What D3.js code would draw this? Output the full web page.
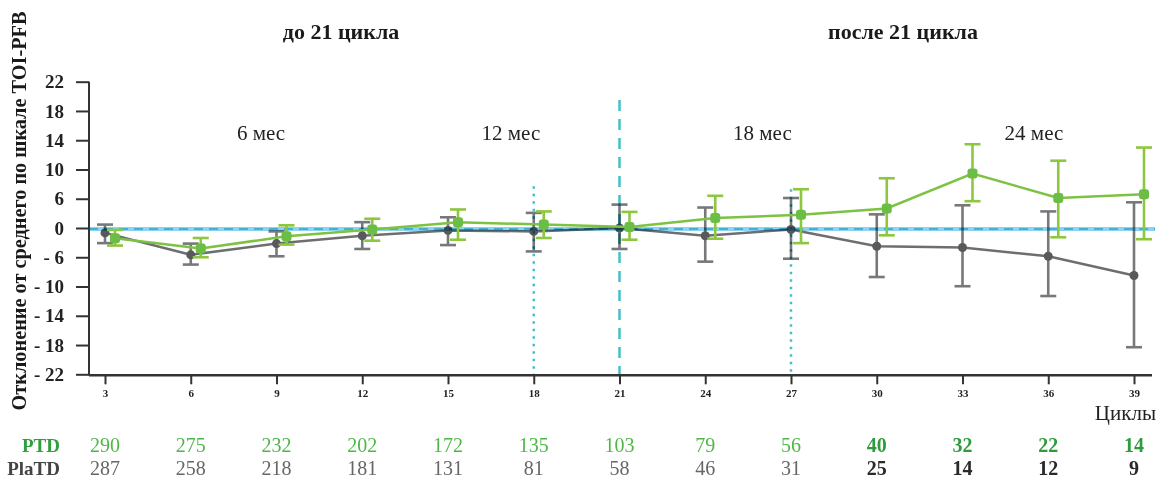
<!DOCTYPE html>
<html><head><meta charset="utf-8">
<script src="https://cdn.jsdelivr.net/npm/d3@7"></script>
<style>
html,body{margin:0;padding:0;background:#fff;}
svg{display:block;font-family:"Liberation Serif","Times New Roman",serif;}
</style></head>
<body>
<svg id="chart" width="1157" height="487"></svg>
<script>
// ---- data ----
const cycles = [3,6,9,12,15,18,21,24,27,30,33,36,39];
const ptdMean  = [-2.1,-4.2,-1.7,-0.3,1.2,0.7,0.2,2.05,2.7,4.0,9.45,6.1,6.6];
const ptdUpper = [-0.4,-2.05,0.55,1.9,3.8,3.4,3.3,6.4,7.3,8.8,13.45,11.2,13.0];
const ptdLower = [-3.6,-6.0,-3.4,-2.6,-2.4,-2.05,-2.4,-2.2,-3.1,-1.5,5.5,-1.9,-2.3];
const plaMean  = [-1.0,-5.5,-3.2,-1.6,-0.5,-0.7,0,-1.6,-0.3,-3.75,-4.0,-5.8,-8.5];
const plaUpper = [0.7,-3.2,-0.7,1.2,2.2,3.1,4.8,4.2,6.1,2.8,4.66,3.4,5.27];
const plaLower = [-3.1,-7.0,-5.8,-4.3,-3.5,-4.8,-4.3,-6.6,-6.2,-8.7,-9.96,-11.3,-18.3];
const ptdN = [290,275,232,202,172,135,103,79,56,40,32,22,14];
const plaN = [287,258,218,181,131,81,58,46,31,25,14,12,9];
const yTickValues = [22,18,14,10,6,0,-6,-10,-14,-18,-22];
const yTickLabels = ["22","18","14","10","6","0","- 6","- 10","- 14","- 18","- 22"];
const periodLabels = ["6 мес","12 мес","18 мес","24 мес"];
const periodCycles = [8.46,17.2,26.0,35.5];
const vLineCycles = [18,21,27];
const vLineTops = [7.7,19.5,7.3];
const vLineStyles = ["dot","dash","dot"];
const sectionTitles = ["до 21 цикла","после 21 цикла"];
const yAxisTitle = "Отклонение от среднего по шкале TOI-PFB";
const xAxisTitle = "Циклы";
const rowLabels = ["PTD","PlaTD"];

// ---- scales ----
const svg = d3.select("#chart");
const yTop = 81.7, yStep = 29.26;
const y = d3.scaleLinear()
  .domain(yTickValues)
  .range(yTickValues.map((d,i)=> yTop + i*yStep));
const x = d3.scaleLinear().domain([3,39]).range([105,1134]);
const greenOff = 0.35;

const GREEN_LINE = "#7dc242", GREEN_BAR = "#8dc63f", GREEN_PT = "#6cbd45";
const GRAY_LINE = "#6d6e71", GRAY_BAR = "#77787b", GRAY_PT = "#58595b";
const TEAL = "#45c0c8";

// reference line at 0
const x0 = 89, x1 = 1155;
svg.append("line").attr("x1",x0).attr("x2",x1).attr("y1",y(0)+1).attr("y2",y(0)+1)
  .attr("stroke","#8dd2ef").attr("stroke-width",4);
svg.append("line").attr("x1",x0).attr("x2",x1).attr("y1",y(0)+1).attr("y2",y(0)+1)
  .attr("stroke","#3eb3d6").attr("stroke-width",2).attr("stroke-dasharray","9,6");

// vertical lines
vLineCycles.forEach((c,i)=>{
  svg.append("line").attr("x1",x(c)).attr("x2",x(c))
    .attr("y1",y(vLineTops[i])).attr("y2",y(-22))
    .attr("stroke",TEAL).attr("stroke-width",2.5)
    .attr("stroke-dasharray", vLineStyles[i]==="dot" ? "2.5,5" : "11,8");
});

// axes
const yAxis = d3.axisLeft(y).tickValues(yTickValues)
  .tickFormat((d,i)=>yTickLabels[i]).tickSize(13).tickPadding(12);
const gy = svg.append("g").attr("transform",`translate(${x0},0)`).call(yAxis);
gy.select(".domain").remove();
gy.append("line").attr("x1",0).attr("x2",0).attr("y1",y(22)).attr("y2",y(-22)+1)
  .attr("stroke","#333").attr("stroke-width",2);
gy.selectAll(".tick line").attr("stroke","#333").attr("stroke-width",2);
gy.selectAll(".tick text").attr("fill","#222").attr("font-size",19).attr("font-weight","bold")
  .attr("font-family","Liberation Serif, serif");

const xAxis = d3.axisBottom(x).tickValues(cycles).tickSize(9).tickPadding(5);
const gx = svg.append("g").attr("transform",`translate(0,${y(-22)+1})`).call(xAxis);
gx.select(".domain").remove();
gx.append("line").attr("x1",x0).attr("x2",1152).attr("y1",0).attr("y2",0)
  .attr("stroke","#333").attr("stroke-width",2.5);
gx.selectAll(".tick line").attr("stroke","#333").attr("stroke-width",2);
gx.selectAll(".tick text").attr("fill","#222").attr("font-size",11).attr("font-weight","bold")
  .attr("font-family","Liberation Serif, serif");

// series helpers
function drawSeries(mean, up, lo, off, lineCol, barCol, ptCol, shape, blend){
  const g = svg.append("g");
  if (blend) g.style("mix-blend-mode","multiply");
  const line = d3.line().x((d,i)=>x(cycles[i]+off)).y(d=>y(d));
  g.append("path").datum(mean).attr("d",line).attr("fill","none")
    .attr("stroke",lineCol).attr("stroke-width",2.5);
  const cap = 8;
  cycles.forEach((c,i)=>{
    const cx = x(c+off);
    g.append("line").attr("x1",cx).attr("x2",cx).attr("y1",y(up[i])).attr("y2",y(lo[i]))
      .attr("stroke",barCol).attr("stroke-width",2.6);
    [up[i],lo[i]].forEach(v=>{
      g.append("line").attr("x1",cx-cap).attr("x2",cx+cap).attr("y1",y(v)).attr("y2",y(v))
        .attr("stroke",barCol).attr("stroke-width",2.6);
    });
  });
  cycles.forEach((c,i)=>{
    const cx = x(c+off), cy = y(mean[i]);
    if (shape==="square"){
      g.append("rect").attr("x",cx-5).attr("y",cy-5).attr("width",10).attr("height",10)
        .attr("rx",3).attr("fill",ptCol);
    } else {
      g.append("circle").attr("cx",cx).attr("cy",cy).attr("r",4.5).attr("fill",ptCol);
    }
  });
}
drawSeries(plaMean, plaUpper, plaLower, 0, GRAY_LINE, GRAY_BAR, GRAY_PT, "circle", true);
drawSeries(ptdMean, ptdUpper, ptdLower, greenOff, GREEN_LINE, GREEN_BAR, GREEN_PT, "square", false);

// titles
const tf = "Liberation Serif, serif";
svg.append("text").attr("x",341).attr("y",39).attr("text-anchor","middle")
  .attr("font-size",22).attr("font-weight","bold").attr("fill","#1a1a1a").attr("font-family",tf)
  .text(sectionTitles[0]);
svg.append("text").attr("x",903).attr("y",39).attr("text-anchor","middle")
  .attr("font-size",22).attr("font-weight","bold").attr("fill","#1a1a1a").attr("font-family",tf)
  .text(sectionTitles[1]);
periodLabels.forEach((t,i)=>{
  svg.append("text").attr("x",x(periodCycles[i])).attr("y",y(14)).attr("text-anchor","middle")
    .attr("font-size",21).attr("fill","#222").attr("font-family",tf).text(t);
});
svg.append("text").attr("transform",`translate(26,211) rotate(-90)`).attr("text-anchor","middle")
  .attr("font-size",20.3).attr("font-weight","bold").attr("fill","#1a1a1a").attr("font-family",tf)
  .text(yAxisTitle);
svg.append("text").attr("x",1156).attr("y",420).attr("text-anchor","end")
  .attr("font-size",21).attr("fill","#222").attr("font-family",tf).text(xAxisTitle);

// N table
svg.append("text").attr("x",60).attr("y",452).attr("text-anchor","end")
  .attr("font-size",19).attr("font-weight","bold").attr("fill","#2e9f3e").attr("font-family",tf)
  .text(rowLabels[0]);
svg.append("text").attr("x",60).attr("y",475).attr("text-anchor","end")
  .attr("font-size",19).attr("font-weight","bold").attr("fill","#444").attr("font-family",tf)
  .text(rowLabels[1]);
ptdN.forEach((n,i)=>{
  const bold = cycles[i] >= 30;
  svg.append("text").attr("x",x(cycles[i])).attr("y",452).attr("text-anchor","middle")
    .attr("font-size",20).attr("font-weight",bold?"bold":"normal")
    .attr("fill",bold?"#2f9b3c":"#4db848").attr("font-family",tf).text(n);
});
plaN.forEach((n,i)=>{
  const bold = cycles[i] >= 30;
  svg.append("text").attr("x",x(cycles[i])).attr("y",475).attr("text-anchor","middle")
    .attr("font-size",20).attr("font-weight",bold?"bold":"normal")
    .attr("fill",bold?"#2a2a2a":"#666").attr("font-family",tf).text(n);
});
</script>
</body></html>
